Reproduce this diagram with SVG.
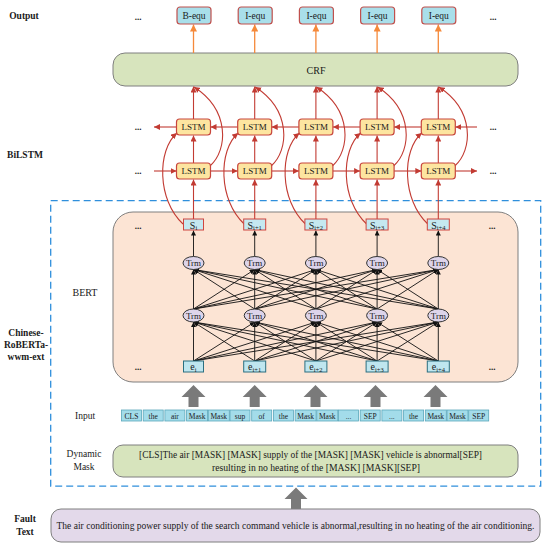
<svg xmlns="http://www.w3.org/2000/svg" width="550" height="548" viewBox="0 0 550 548">
<style>
text{font-family:"Liberation Serif","Times New Roman",serif;fill:#1a1a1a}
.lbl{font-weight:bold;font-size:9.5px;text-anchor:middle}
.dots{font-weight:bold;font-size:9px;text-anchor:middle}
.out rect{fill:#a9dfea;stroke:#c0504d;stroke-width:1.2}
.out text{font-size:9.5px;text-anchor:middle}
.lstm rect{fill:#fde5a0;stroke:#c8463d;stroke-width:1.2}
.lstm text{font-size:9px;text-anchor:middle}
.s rect{fill:#c5e8f0;stroke:#d0453f;stroke-width:1}
.s text,.e text{font-size:10px;text-anchor:middle}
.trm ellipse{fill:#ddd4ea;stroke:#333;stroke-width:1}
.trm text{font-size:9px;text-anchor:middle}
.e rect{fill:#bfe6ef;stroke:#2b6f80;stroke-width:1}
.tok rect{fill:#a3dcea;stroke:#5aa7bb;stroke-width:0.8}
.tok text{font-size:7.5px;text-anchor:middle}
.red{stroke:#c23b33;stroke-width:1.1;fill:none}
.org{stroke:#f5893a;stroke-width:1.3;fill:none}
.blk{stroke:#111;stroke-width:0.9;fill:none}
.barr{fill:#7a7a7a}
</style>
<defs>
<marker id="ar" markerUnits="userSpaceOnUse" markerWidth="6" markerHeight="6" refX="6" refY="3" orient="auto"><path d="M0,0 L6,3 L0,6 z" fill="#c23b33"/></marker>
<marker id="ao" markerUnits="userSpaceOnUse" markerWidth="7" markerHeight="7" refX="7" refY="3.5" orient="auto"><path d="M0,0 L7,3.5 L0,7 z" fill="#f5893a"/></marker>
<marker id="ab" markerUnits="userSpaceOnUse" markerWidth="5" markerHeight="5" refX="5" refY="2.5" orient="auto"><path d="M0,0 L5,2.5 L0,5 z" fill="#111"/></marker>
</defs>

<!-- left labels -->
<g id="labels">
<text class="lbl" x="24" y="19">Output</text>
<text class="lbl" x="25" y="158">BiLSTM</text>
<text class="lbl" x="26" y="336">Chinese-</text>
<text class="lbl" x="26" y="348">RoBERTa-</text>
<text class="lbl" x="26" y="360">wwm-ext</text>
<text class="lbl" x="25" y="522">Fault</text>
<text class="lbl" x="25" y="535">Text</text>
<text x="85" y="296" font-size="10" text-anchor="middle">BERT</text>
<text x="85" y="419" font-size="9.5" text-anchor="middle">Input</text>
<text x="84" y="457" font-size="9.5" text-anchor="middle">Dynamic</text>
<text x="84" y="470" font-size="9.5" text-anchor="middle">Mask</text>
</g>

<!-- containers -->
<g id="bert-area">
<rect x="50.7" y="200.7" width="490" height="285.5" fill="none" stroke="#2f8fdc" stroke-width="1.3" stroke-dasharray="7,4"/>
<rect x="113" y="212" width="405" height="170" rx="20" fill="#fce4d4" stroke="#7f7f7f" stroke-width="1"/>
</g>

<g id="crf">
<rect x="113" y="53" width="405" height="33" rx="12" fill="#d7e4bd" stroke="#7f7f7f" stroke-width="1"/>
<text x="316" y="73.5" font-size="10" text-anchor="middle">CRF</text>
</g>

<!-- dots -->
<g id="ellipsis">
<text class="dots" x="138" y="20">...</text>
<text class="dots" x="493" y="20">...</text>
<text class="dots" x="138" y="130">...</text>
<text class="dots" x="493" y="130">...</text>
<text class="dots" x="138" y="174">...</text>
<text class="dots" x="493" y="174">...</text>
<text class="dots" x="138" y="229">...</text>
<text class="dots" x="492" y="229">...</text>
<text class="dots" x="138" y="370">...</text>
<text class="dots" x="492" y="370">...</text>
</g>

<!-- connectors -->
<g id="connectors">
<!-- CRF to outputs -->
<path class="org" marker-end="url(#ao)" d="M193.5,53 V24.5"/>
<path class="org" marker-end="url(#ao)" d="M254.7,53 V24.5"/>
<path class="org" marker-end="url(#ao)" d="M315.9,53 V24.5"/>
<path class="org" marker-end="url(#ao)" d="M377.1,53 V24.5"/>
<path class="org" marker-end="url(#ao)" d="M438.3,53 V24.5"/>
<!-- vertical LSTM -->
<g class="red">
<path marker-end="url(#ar)" d="M193.5,219 V179.5"/><path marker-end="url(#ar)" d="M193.5,163 V135.5"/><path marker-end="url(#ar)" d="M193.5,119 V86.5"/>
<path marker-end="url(#ar)" d="M254.7,219 V179.5"/><path marker-end="url(#ar)" d="M254.7,163 V135.5"/><path marker-end="url(#ar)" d="M254.7,119 V86.5"/>
<path marker-end="url(#ar)" d="M315.9,219 V179.5"/><path marker-end="url(#ar)" d="M315.9,163 V135.5"/><path marker-end="url(#ar)" d="M315.9,119 V86.5"/>
<path marker-end="url(#ar)" d="M377.1,219 V179.5"/><path marker-end="url(#ar)" d="M377.1,163 V135.5"/><path marker-end="url(#ar)" d="M377.1,119 V86.5"/>
<path marker-end="url(#ar)" d="M438.3,219 V179.5"/><path marker-end="url(#ar)" d="M438.3,163 V135.5"/><path marker-end="url(#ar)" d="M438.3,119 V86.5"/>
<!-- backward row (left) -->
<path marker-end="url(#ar)" d="M176.5,127 H154"/>
<path marker-end="url(#ar)" d="M237.7,127 H210.5"/>
<path marker-end="url(#ar)" d="M298.9,127 H271.7"/>
<path marker-end="url(#ar)" d="M360.1,127 H332.9"/>
<path marker-end="url(#ar)" d="M421.3,127 H394.1"/>
<path marker-end="url(#ar)" d="M477,127 H455.3"/>
<!-- forward row (right) -->
<path marker-end="url(#ar)" d="M154,171 H176.5"/>
<path marker-end="url(#ar)" d="M210.5,171 H237.7"/>
<path marker-end="url(#ar)" d="M271.7,171 H298.9"/>
<path marker-end="url(#ar)" d="M332.9,171 H360.1"/>
<path marker-end="url(#ar)" d="M394.1,171 H421.3"/>
<path marker-end="url(#ar)" d="M455.3,171 H477"/>
<!-- S to backward LSTM curves -->
<path marker-end="url(#ar)" d="M183,224 C157,200 157,150 177,133"/>
<path marker-end="url(#ar)" d="M244.2,224 C218.2,200 218.2,150 238.2,133"/>
<path marker-end="url(#ar)" d="M305.4,224 C279.4,200 279.4,150 299.4,133"/>
<path marker-end="url(#ar)" d="M366.6,224 C340.6,200 340.6,150 360.6,133"/>
<path marker-end="url(#ar)" d="M427.8,224 C401.8,200 401.8,150 421.8,133"/>
<!-- forward LSTM to CRF curves -->
<path marker-end="url(#ar)" d="M210,166 C228,150 230,110 194,87"/>
<path marker-end="url(#ar)" d="M271.2,166 C289.2,150 291.2,110 255.2,87"/>
<path marker-end="url(#ar)" d="M332.4,166 C350.4,150 352.4,110 316.4,87"/>
<path marker-end="url(#ar)" d="M393.6,166 C411.6,150 413.6,110 377.6,87"/>
<path marker-end="url(#ar)" d="M454.8,166 C472.8,150 474.8,110 438.8,87"/>
</g>
<!-- Transformer connections -->
<g class="blk">
<path marker-end="url(#ab)" d="M193.5,256.5 V230.5"/>
<path marker-end="url(#ab)" d="M254.7,256.5 V230.5"/>
<path marker-end="url(#ab)" d="M315.9,256.5 V230.5"/>
<path marker-end="url(#ab)" d="M377.1,256.5 V230.5"/>
<path marker-end="url(#ab)" d="M438.3,256.5 V230.5"/>
<!-- L1 to L2 -->
<path marker-end="url(#ab)" d="M193.5,309 L193.5,269.5"/><path marker-end="url(#ab)" d="M193.5,309 L254.7,269.5"/><path marker-end="url(#ab)" d="M193.5,309 L315.9,269.5"/><path marker-end="url(#ab)" d="M193.5,309 L377.1,269.5"/><path marker-end="url(#ab)" d="M193.5,309 L438.3,269.5"/>
<path marker-end="url(#ab)" d="M254.7,309 L193.5,269.5"/><path marker-end="url(#ab)" d="M254.7,309 L254.7,269.5"/><path marker-end="url(#ab)" d="M254.7,309 L315.9,269.5"/><path marker-end="url(#ab)" d="M254.7,309 L377.1,269.5"/><path marker-end="url(#ab)" d="M254.7,309 L438.3,269.5"/>
<path marker-end="url(#ab)" d="M315.9,309 L193.5,269.5"/><path marker-end="url(#ab)" d="M315.9,309 L254.7,269.5"/><path marker-end="url(#ab)" d="M315.9,309 L315.9,269.5"/><path marker-end="url(#ab)" d="M315.9,309 L377.1,269.5"/><path marker-end="url(#ab)" d="M315.9,309 L438.3,269.5"/>
<path marker-end="url(#ab)" d="M377.1,309 L193.5,269.5"/><path marker-end="url(#ab)" d="M377.1,309 L254.7,269.5"/><path marker-end="url(#ab)" d="M377.1,309 L315.9,269.5"/><path marker-end="url(#ab)" d="M377.1,309 L377.1,269.5"/><path marker-end="url(#ab)" d="M377.1,309 L438.3,269.5"/>
<path marker-end="url(#ab)" d="M438.3,309 L193.5,269.5"/><path marker-end="url(#ab)" d="M438.3,309 L254.7,269.5"/><path marker-end="url(#ab)" d="M438.3,309 L315.9,269.5"/><path marker-end="url(#ab)" d="M438.3,309 L377.1,269.5"/><path marker-end="url(#ab)" d="M438.3,309 L438.3,269.5"/>
<!-- e to L1 -->
<path marker-end="url(#ab)" d="M193.5,361 L193.5,322"/><path marker-end="url(#ab)" d="M193.5,361 L254.7,322"/><path marker-end="url(#ab)" d="M193.5,361 L315.9,322"/><path marker-end="url(#ab)" d="M193.5,361 L377.1,322"/><path marker-end="url(#ab)" d="M193.5,361 L438.3,322"/>
<path marker-end="url(#ab)" d="M254.7,361 L193.5,322"/><path marker-end="url(#ab)" d="M254.7,361 L254.7,322"/><path marker-end="url(#ab)" d="M254.7,361 L315.9,322"/><path marker-end="url(#ab)" d="M254.7,361 L377.1,322"/><path marker-end="url(#ab)" d="M254.7,361 L438.3,322"/>
<path marker-end="url(#ab)" d="M315.9,361 L193.5,322"/><path marker-end="url(#ab)" d="M315.9,361 L254.7,322"/><path marker-end="url(#ab)" d="M315.9,361 L315.9,322"/><path marker-end="url(#ab)" d="M315.9,361 L377.1,322"/><path marker-end="url(#ab)" d="M315.9,361 L438.3,322"/>
<path marker-end="url(#ab)" d="M377.1,361 L193.5,322"/><path marker-end="url(#ab)" d="M377.1,361 L254.7,322"/><path marker-end="url(#ab)" d="M377.1,361 L315.9,322"/><path marker-end="url(#ab)" d="M377.1,361 L377.1,322"/><path marker-end="url(#ab)" d="M377.1,361 L438.3,322"/>
<path marker-end="url(#ab)" d="M438.3,361 L193.5,322"/><path marker-end="url(#ab)" d="M438.3,361 L254.7,322"/><path marker-end="url(#ab)" d="M438.3,361 L315.9,322"/><path marker-end="url(#ab)" d="M438.3,361 L377.1,322"/><path marker-end="url(#ab)" d="M438.3,361 L438.3,322"/>
</g>
<!-- grey block arrows -->
<g class="barr">
<path d="M193.5,385 L205.5,397 L198.5,397 L198.5,407 L188.5,407 L188.5,397 L181.5,397 z"/>
<path d="M254.7,385 L266.7,397 L259.7,397 L259.7,407 L249.7,407 L249.7,397 L242.7,397 z"/>
<path d="M315.5,385 L327.5,397 L320.5,397 L320.5,407 L310.5,407 L310.5,397 L303.5,397 z"/>
<path d="M375.5,385 L387.5,397 L380.5,397 L380.5,407 L370.5,407 L370.5,397 L363.5,397 z"/>
<path d="M435.5,385 L447.5,397 L440.5,397 L440.5,407 L430.5,407 L430.5,397 L423.5,397 z"/>
<path d="M296,487.5 L307.5,499 L301,499 L301,509 L291,509 L291,499 L284.5,499 z"/>
</g>
</g>

<!-- output nodes -->
<g id="out0" class="out"><rect x="177" y="7" width="34" height="17" rx="3"/><text x="194" y="19">B-equ</text></g>
<g id="out1" class="out"><rect x="238.2" y="7" width="34" height="17" rx="3"/><text x="255.2" y="19">I-equ</text></g>
<g id="out2" class="out"><rect x="299.4" y="7" width="34" height="17" rx="3"/><text x="316.4" y="19">I-equ</text></g>
<g id="out3" class="out"><rect x="360.6" y="7" width="34" height="17" rx="3"/><text x="377.6" y="19">I-equ</text></g>
<g id="out4" class="out"><rect x="421.8" y="7" width="34" height="17" rx="3"/><text x="438.8" y="19">I-equ</text></g>

<!-- LSTM nodes -->
<g id="lstm-b0" class="lstm"><rect x="176.5" y="119" width="34" height="16" rx="3"/><text x="193.5" y="130.2">LSTM</text></g>
<g id="lstm-b1" class="lstm"><rect x="237.7" y="119" width="34" height="16" rx="3"/><text x="254.7" y="130.2">LSTM</text></g>
<g id="lstm-b2" class="lstm"><rect x="298.9" y="119" width="34" height="16" rx="3"/><text x="315.9" y="130.2">LSTM</text></g>
<g id="lstm-b3" class="lstm"><rect x="360.1" y="119" width="34" height="16" rx="3"/><text x="377.1" y="130.2">LSTM</text></g>
<g id="lstm-b4" class="lstm"><rect x="421.3" y="119" width="34" height="16" rx="3"/><text x="438.3" y="130.2">LSTM</text></g>
<g id="lstm-f0" class="lstm"><rect x="176.5" y="163" width="34" height="16" rx="3"/><text x="193.5" y="174.2">LSTM</text></g>
<g id="lstm-f1" class="lstm"><rect x="237.7" y="163" width="34" height="16" rx="3"/><text x="254.7" y="174.2">LSTM</text></g>
<g id="lstm-f2" class="lstm"><rect x="298.9" y="163" width="34" height="16" rx="3"/><text x="315.9" y="174.2">LSTM</text></g>
<g id="lstm-f3" class="lstm"><rect x="360.1" y="163" width="34" height="16" rx="3"/><text x="377.1" y="174.2">LSTM</text></g>
<g id="lstm-f4" class="lstm"><rect x="421.3" y="163" width="34" height="16" rx="3"/><text x="438.3" y="174.2">LSTM</text></g>

<!-- S nodes -->
<g id="s0" class="s"><rect x="183.5" y="219" width="20" height="11"/><text x="193.5" y="228.5">S<tspan font-size="6.5" dy="1.5">i</tspan></text></g>
<g id="s1" class="s"><rect x="243.7" y="219" width="22" height="11"/><text x="254.7" y="228.5">S<tspan font-size="6.5" dy="1.5">i+1</tspan></text></g>
<g id="s2" class="s"><rect x="304.9" y="219" width="22" height="11"/><text x="315.9" y="228.5">S<tspan font-size="6.5" dy="1.5">i+2</tspan></text></g>
<g id="s3" class="s"><rect x="366.1" y="219" width="22" height="11"/><text x="377.1" y="228.5">S<tspan font-size="6.5" dy="1.5">i+3</tspan></text></g>
<g id="s4" class="s"><rect x="427.3" y="219" width="22" height="11"/><text x="438.3" y="228.5">S<tspan font-size="6.5" dy="1.5">i+4</tspan></text></g>

<!-- Trm nodes -->
<g id="trm2-0" class="trm"><ellipse cx="193.5" cy="263" rx="10.5" ry="6.5"/><text x="193.5" y="266">Trm</text></g>
<g id="trm2-1" class="trm"><ellipse cx="254.7" cy="263" rx="10.5" ry="6.5"/><text x="254.7" y="266">Trm</text></g>
<g id="trm2-2" class="trm"><ellipse cx="315.9" cy="263" rx="10.5" ry="6.5"/><text x="315.9" y="266">Trm</text></g>
<g id="trm2-3" class="trm"><ellipse cx="377.1" cy="263" rx="10.5" ry="6.5"/><text x="377.1" y="266">Trm</text></g>
<g id="trm2-4" class="trm"><ellipse cx="438.3" cy="263" rx="10.5" ry="6.5"/><text x="438.3" y="266">Trm</text></g>
<g id="trm1-0" class="trm"><ellipse cx="193.5" cy="315.5" rx="10.5" ry="6.5"/><text x="193.5" y="318.5">Trm</text></g>
<g id="trm1-1" class="trm"><ellipse cx="254.7" cy="315.5" rx="10.5" ry="6.5"/><text x="254.7" y="318.5">Trm</text></g>
<g id="trm1-2" class="trm"><ellipse cx="315.9" cy="315.5" rx="10.5" ry="6.5"/><text x="315.9" y="318.5">Trm</text></g>
<g id="trm1-3" class="trm"><ellipse cx="377.1" cy="315.5" rx="10.5" ry="6.5"/><text x="377.1" y="318.5">Trm</text></g>
<g id="trm1-4" class="trm"><ellipse cx="438.3" cy="315.5" rx="10.5" ry="6.5"/><text x="438.3" y="318.5">Trm</text></g>

<!-- e nodes -->
<g id="e0" class="e"><rect x="183.5" y="361" width="20" height="11"/><text x="193.5" y="370">e<tspan font-size="6.5" dy="1.5">i</tspan></text></g>
<g id="e1" class="e"><rect x="243.7" y="361" width="22" height="11"/><text x="254.7" y="370">e<tspan font-size="6.5" dy="1.5">i+1</tspan></text></g>
<g id="e2" class="e"><rect x="304.9" y="361" width="22" height="11"/><text x="315.9" y="370">e<tspan font-size="6.5" dy="1.5">i+2</tspan></text></g>
<g id="e3" class="e"><rect x="366.1" y="361" width="22" height="11"/><text x="377.1" y="370">e<tspan font-size="6.5" dy="1.5">i+3</tspan></text></g>
<g id="e4" class="e"><rect x="427.3" y="361" width="22" height="11"/><text x="438.3" y="370">e<tspan font-size="6.5" dy="1.5">i+4</tspan></text></g>

<!-- input tokens -->
<g id="tokens" class="tok">
<rect x="121.5" y="410" width="20" height="11"/><text x="131.5" y="418.5">CLS</text>
<rect x="143.2" y="410" width="20" height="11"/><text x="153.2" y="418.5">the</text>
<rect x="164.9" y="410" width="20" height="11"/><text x="174.9" y="418.5">air</text>
<rect x="186.6" y="410" width="21" height="11"/><text x="197.1" y="418.5">Mask</text>
<rect x="208.3" y="410" width="21" height="11"/><text x="218.8" y="418.5">Mask</text>
<rect x="230.0" y="410" width="20" height="11"/><text x="240.0" y="418.5">sup</text>
<rect x="251.7" y="410" width="20" height="11"/><text x="261.7" y="418.5">of</text>
<rect x="273.4" y="410" width="20" height="11"/><text x="283.4" y="418.5">the</text>
<rect x="295.1" y="410" width="21" height="11"/><text x="305.6" y="418.5">Mask</text>
<rect x="316.8" y="410" width="21" height="11"/><text x="327.3" y="418.5">Mask</text>
<rect x="338.5" y="410" width="20" height="11"/><text x="348.5" y="418.5">...</text>
<rect x="360.2" y="410" width="20" height="11"/><text x="370.2" y="418.5">SEP</text>
<rect x="381.9" y="410" width="20" height="11"/><text x="391.9" y="418.5">...</text>
<rect x="403.6" y="410" width="20" height="11"/><text x="413.6" y="418.5">the</text>
<rect x="425.3" y="410" width="21" height="11"/><text x="435.8" y="418.5">Mask</text>
<rect x="447.0" y="410" width="21" height="11"/><text x="457.5" y="418.5">Mask</text>
<rect x="468.7" y="410" width="20" height="11"/><text x="478.7" y="418.5">SEP</text>
</g>

<!-- dynamic mask -->
<g id="dynamic-mask">
<rect x="113" y="445" width="405" height="32" rx="10" fill="#d7e4bd" stroke="#7f7f7f" stroke-width="1"/>
<text x="310.5" y="458" font-size="10" text-anchor="middle" textLength="343" lengthAdjust="spacingAndGlyphs">[CLS]The air [MASK] [MASK] supply of the [MASK] [MASK] vehicle is abnormal[SEP]</text>
<text x="316" y="471" font-size="10" text-anchor="middle" textLength="208" lengthAdjust="spacingAndGlyphs">resulting in no heating of the [MASK] [MASK][SEP]</text>
</g>

<!-- fault text -->
<g id="fault-text">
<rect x="51" y="509" width="489" height="33" rx="10" fill="#e3d9ea" stroke="#7f7f7f" stroke-width="1"/>
<text x="295.5" y="529" font-size="9.3" text-anchor="middle" textLength="478" lengthAdjust="spacingAndGlyphs">The air conditioning power supply of the search command vehicle is abnormal,resulting in no heating of the air conditioning.</text>
</g>
</svg>
